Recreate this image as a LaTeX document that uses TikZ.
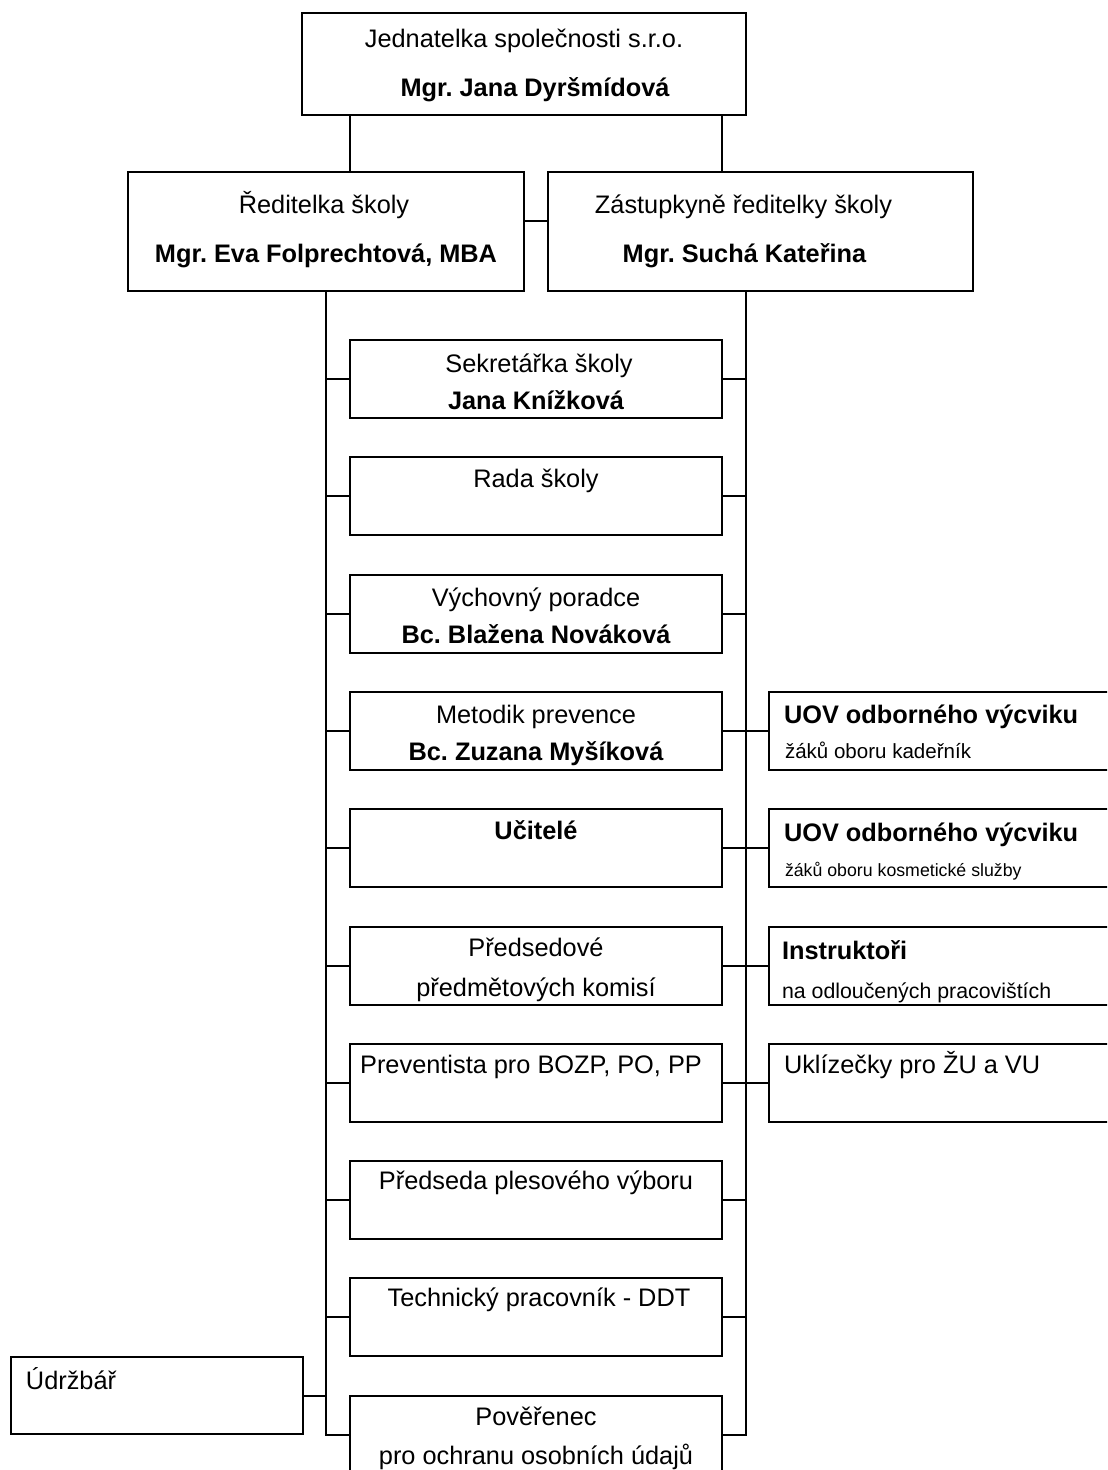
\documentclass[tikz,border=0pt]{standalone}
\usepackage{fontspec}
\setmainfont{Liberation Sans}
\usetikzlibrary{positioning,calc}
\frenchspacing

\tikzset{every picture/.style={line width=1.5pt}}
\tikzset{
  box/.style={draw, fill=white, inner sep=0pt, outer sep=0pt},
  unit/.style={box, minimum width=279pt, minimum height=58.5pt},
  side/.style={box, minimum width=270.75pt, minimum height=58.5pt},
  txt/.style={inner sep=0pt, anchor=base, font=\fontsize{19}{23}\selectfont},
  txtb/.style={txt, font=\fontsize{19}{23}\selectfont\bfseries},
  ltxt/.style={txt, anchor=base west},
  ltxtb/.style={txtb, anchor=base west}
}

\begin{document}
\begin{tikzpicture}[x=0.75pt,y=0.75pt,yscale=-1,xscale=1]
\useasboundingbox (0,0) rectangle (1107,1470);
\clip (0,0) rectangle (1107,1470);

%Top boxes
\node[box, minimum width=333pt, minimum height=76.5pt] (jed) at (524,64) {};
\node[box, minimum width=297pt, minimum height=89.25pt] (red) at (326,231.5) {};
\node[box, minimum width=318.75pt, minimum height=89.25pt] (zas) at (760.5,231.5) {};

%Middle column
\foreach \b [count=\k from 0] in {sekr,rada,vych,meto,ucit,pred,prev,ples,tech,pov}
  \node[unit] (\b) at (536,379+117.3*\k) {};

%Right column
\foreach \b [count=\k from 3] in {uov1,uov2,inst,ukli}
  \node[side] (\b) at (949.5,379+117.3*\k) {};

%Left box
\node[box, minimum width=219pt, minimum height=57.75pt] (udr) at (157,1395.5) {};

%Connectors
\coordinate (jl) at ($(jed.south west)+(48,0)$);
\coordinate (jr) at ($(jed.south east)+(-24,0)$);
\coordinate (rs) at (jed.east |- zas.south);
\draw (jl) -- (jl |- red.north);
\draw (jr) -- (jr |- zas.north);
\draw ($(red.east)+(0,-10.5)$) -- ($(zas.west)+(0,-10.5)$);
\draw (red.south) |- (pov.west);
\draw (rs) |- (pov.east);
\foreach \b in {sekr,rada,vych,meto,ucit,pred,prev,ples,tech} {
  \draw (red.south |- \b.west) -- (\b.west);
  \draw (rs |- \b.east) -- (\b.east);
}
\foreach \b in {uov1,uov2,inst,ukli}
  \draw (rs |- \b.west) -- (\b.west);
\draw (red.south |- pov.north) -- (udr.east |- pov.north);

% Text Node
\node[txt] (jed-a) at ($(jed.north)+(0,35)$) {Jednatelka společnosti s.r.o.};
\node[txtb] (jed-b) at ($(jed.north)+(11,84)$) {Mgr. Jana Dyršmídová};
\node[txt] (red-a) at ($(red.north)+(-2,41.5)$) {Ředitelka školy};
\node[txtb] (red-b) at ($(red.north)+(0,90.5)$) {Mgr. Eva Folprechtová, MBA};
\node[txt] (zas-a) at ($(zas.north)+(-17,41.5)$) {Zástupkyně ředitelky školy};
\node[txtb] (zas-b) at ($(zas.north)+(-16,90.5)$) {Mgr. Suchá Kateřina};
% Text Node
\node[txt] (sekr-a) at ($(sekr.north)+(3,32)$) {Sekretářka školy};
\node[txtb] (sekr-b) at ($(sekr.north)+(0,69)$) {Jana Knížková};
\node[txt] (rada-a) at ($(rada.north)+(0,30)$) {Rada školy};
\node[txt] (vych-a) at ($(vych.north)+(0,32)$) {Výchovný poradce};
\node[txtb] (vych-b) at ($(vych.north)+(0,69)$) {Bc. Blažena Nováková};
\node[txt] (meto-a) at ($(meto.north)+(0,32)$) {Metodik prevence};
\node[txtb] (meto-b) at ($(meto.north)+(0,69)$) {Bc. Zuzana Myšíková};
\node[txtb] (ucit-a) at ($(ucit.north)+(0,30)$) {Učitelé};
\node[txt] (pred-a) at ($(pred.north)+(0,30)$) {Předsedové};
\node[txt] (pred-b) at ($(pred.north)+(0,70)$) {předmětových komisí};
\node[txt] (prev-a) at ($(prev.north)+(-5,30)$) {Preventista pro BOZP, PO, PP};
\node[txt] (ples-a) at ($(ples.north)+(0,28)$) {Předseda plesového výboru};
\node[txt] (tech-a) at ($(tech.north)+(3,28)$) {Technický pracovník - DDT};
\node[txt] (pov-a) at ($(pov.north)+(0,30)$) {Pověřenec};
\node[txt] (pov-b) at ($(pov.north)+(0,69)$) {pro ochranu osobních údajů};
% Text Node
\node[ltxtb] (uov1-a) at ($(uov1.north west)+(14,32)$) {UOV odborného výcviku};
\node[ltxt, font=\fontsize{15.4}{18}\selectfont] (uov1-b) at ($(uov1.north west)+(15,67)$) {žáků oboru kadeřník};
\node[ltxtb] (uov2-a) at ($(uov2.north west)+(14,32)$) {UOV odborného výcviku};
\node[ltxt, font=\fontsize{13.3}{16}\selectfont] (uov2-b) at ($(uov2.north west)+(15,67)$) {žáků oboru kosmetické služby};
\node[ltxtb] (inst-a) at ($(inst.north west)+(12,33)$) {Instruktoři};
\node[ltxt, font=\fontsize{16}{19}\selectfont] (inst-b) at ($(inst.north west)+(12,72)$) {na odloučených pracovištích};
\node[ltxt] (ukli-a) at ($(ukli.north west)+(14,30)$) {Uklízečky pro ŽU a VU};
\node[ltxt] (udr-a) at ($(udr.north west)+(14,32)$) {Údržbář};

\end{tikzpicture}
\end{document}
